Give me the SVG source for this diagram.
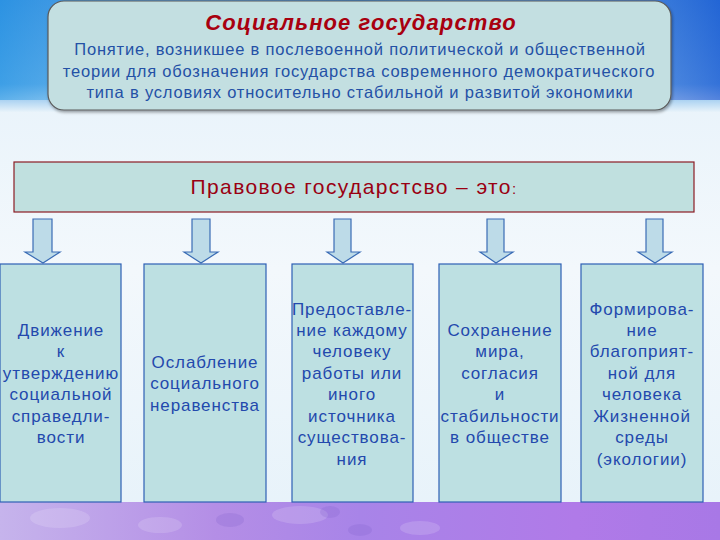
<svg xmlns="http://www.w3.org/2000/svg" width="720" height="540" viewBox="0 0 720 540">
<defs>
<linearGradient id="bgTop" x1="0" y1="0" x2="0" y2="1">
<stop offset="0" stop-color="#2f86dc"/>
<stop offset="0.75" stop-color="#5aa6e6"/>
<stop offset="1" stop-color="#e8f3fa"/>
</linearGradient>
<linearGradient id="bgTopH" x1="0" y1="0" x2="1" y2="0">
<stop offset="0" stop-color="#2a9ae6" stop-opacity="0.6"/>
<stop offset="0.5" stop-color="#ffffff" stop-opacity="0"/>
<stop offset="1" stop-color="#1a4fd0" stop-opacity="0.6"/>
</linearGradient>
<linearGradient id="bgMid" x1="0" y1="0" x2="0" y2="1">
<stop offset="0" stop-color="#e4f1fa"/>
<stop offset="0.5" stop-color="#f3f8fc"/>
<stop offset="1" stop-color="#e6f2fa"/>
</linearGradient>
<linearGradient id="bgBot" x1="0" y1="0" x2="1" y2="0">
<stop offset="0" stop-color="#c6b4ec"/>
<stop offset="0.3" stop-color="#b48ee6"/>
<stop offset="0.5" stop-color="#a884e8"/>
<stop offset="0.8" stop-color="#b07ae8"/>
<stop offset="1" stop-color="#a878e6"/>
</linearGradient>
<filter id="sh" x="-5%" y="-5%" width="110%" height="120%">
<feDropShadow dx="1" dy="2" stdDeviation="1.5" flood-color="#000" flood-opacity="0.35"/>
</filter>
</defs>
<style>
.body{font-family:"Liberation Sans",Arial,sans-serif;font-size:17px;letter-spacing:0.9px;fill:#2349ad;text-anchor:middle}
.top{font-family:"Liberation Sans",Arial,sans-serif;font-size:16.5px;letter-spacing:0.8px;fill:#2451a6;text-anchor:middle}
.title{font-family:"Liberation Sans",Arial,sans-serif;font-size:22px;letter-spacing:1.1px;font-weight:bold;font-style:italic;fill:#a8000f;text-anchor:middle}
.mid{font-family:"Liberation Sans",Arial,sans-serif;font-size:21px;letter-spacing:1.4px;fill:#9a0012;text-anchor:middle}
.box{fill:#bde0e2;stroke:#2d5fb5;stroke-width:1.2}
.arrow{fill:#bddbe8;stroke:#3a6cb5;stroke-width:1.2}
</style>
<g id="background">
<rect x="0" y="0" width="720" height="540" fill="url(#bgMid)"/>
<rect x="0" y="0" width="720" height="112" fill="url(#bgTop)"/>
<rect x="0" y="0" width="720" height="100" fill="url(#bgTopH)"/>
<rect x="0" y="502" width="720" height="38" fill="url(#bgBot)"/>
<g fill="#ffffff" opacity="0.15">
<ellipse cx="60" cy="518" rx="30" ry="10"/>
<ellipse cx="160" cy="525" rx="22" ry="8"/>
<ellipse cx="300" cy="515" rx="28" ry="9"/>
<ellipse cx="420" cy="528" rx="20" ry="7"/>
</g>
<g fill="#7a5cc8" opacity="0.2">
<ellipse cx="330" cy="512" rx="10" ry="6"/>
<ellipse cx="360" cy="530" rx="12" ry="6"/>
<ellipse cx="230" cy="520" rx="14" ry="7"/>
</g>
</g>
<g id="header">
<rect x="48" y="1" width="623" height="109" rx="16" ry="16" fill="#c3dfe1" stroke="#5a5a5a" stroke-width="1.2" filter="url(#sh)"/>
<text class="title" x="361" y="30">Социальное государство</text>
<text class="top" x="360" y="55">Понятие, возникшее в послевоенной политической и общественной</text>
<text class="top" x="359" y="77">теории для обозначения государства современного демократического</text>
<text class="top" x="360" y="98">типа в условиях относительно стабильной и развитой экономики</text>
</g>
<g id="main">
<rect x="14" y="162" width="680" height="50" fill="#c0e0df" stroke="#8b1c24" stroke-width="1.2"/>
<text class="mid" x="354" y="194">Правовое государстсво – это<tspan font-size="15">:</tspan></text>
</g>
<g id="connectors">
<path class="arrow" d="M33,219 H52 V252 H60 L43,263 L25,252 H33 Z"/>
<path class="arrow" d="M192,219 H210 V252 H218 L201,263 L184,252 H192 Z"/>
<path class="arrow" d="M334,219 H351 V252 H360 L343,263 L327,252 H334 Z"/>
<path class="arrow" d="M487,219 H504 V252 H513 L496,263 L480,252 H487 Z"/>
<path class="arrow" d="M646,219 H663 V252 H672 L655,263 L638,252 H646 Z"/>
</g>
<g id="item1">
<rect class="box" x="0" y="264" width="121" height="238"/>
<text class="body" x="61"><tspan x="61" y="336">Движение</tspan><tspan x="61" y="357">к</tspan><tspan x="61" y="379">утверждению</tspan><tspan x="61" y="400">социальной</tspan><tspan x="61" y="422">справедли-</tspan><tspan x="61" y="443">вости</tspan></text>
</g>
<g id="item2">
<rect class="box" x="144" y="264" width="122" height="238"/>
<text class="body"><tspan x="205" y="368">Ослабление</tspan><tspan x="205" y="389">социального</tspan><tspan x="205" y="411">неравенства</tspan></text>
</g>
<g id="item3">
<rect class="box" x="292" y="264" width="121" height="238"/>
<text class="body"><tspan x="352" y="315">Предоставле-</tspan><tspan x="352" y="336">ние каждому</tspan><tspan x="352" y="357">человеку</tspan><tspan x="352" y="379">работы или</tspan><tspan x="352" y="400">иного</tspan><tspan x="352" y="422">источника</tspan><tspan x="352" y="443">существова-</tspan><tspan x="352" y="465">ния</tspan></text>
</g>
<g id="item4">
<rect class="box" x="439" y="264" width="122" height="238"/>
<text class="body"><tspan x="500" y="336">Сохранение</tspan><tspan x="500" y="357">мира,</tspan><tspan x="500" y="379">согласия</tspan><tspan x="500" y="400">и</tspan><tspan x="500" y="422">стабильности</tspan><tspan x="500" y="443">в обществе</tspan></text>
</g>
<g id="item5">
<rect class="box" x="581" y="264" width="122" height="238"/>
<text class="body"><tspan x="642" y="315">Формирова-</tspan><tspan x="642" y="336">ние</tspan><tspan x="642" y="357">благоприят-</tspan><tspan x="642" y="379">ной для</tspan><tspan x="642" y="400">человека</tspan><tspan x="642" y="422">Жизненной</tspan><tspan x="642" y="443">среды</tspan><tspan x="642" y="465">(экологии)</tspan></text>
</g>
</svg>
